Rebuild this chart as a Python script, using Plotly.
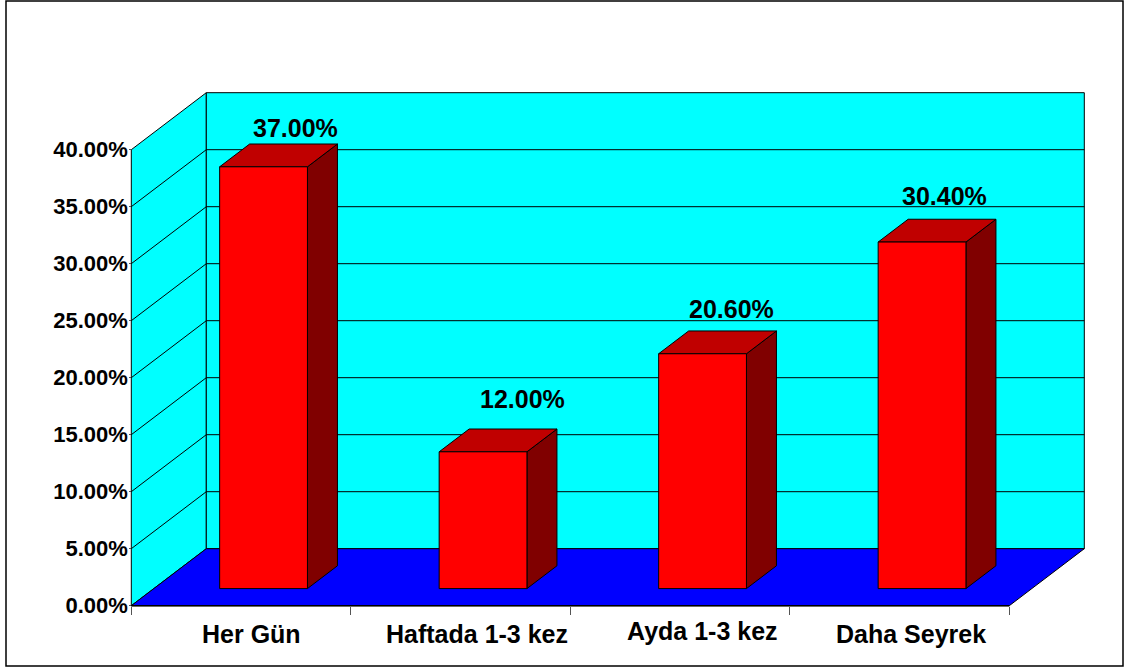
import plotly.graph_objects as go

# ---- data ----
categories = ["Her Gün", "Haftada 1-3 kez", "Ayda 1-3 kez", "Daha Seyrek"]
values = [37.0, 12.0, 20.6, 30.4]
y_ticks = [0, 5, 10, 15, 20, 25, 30, 35, 40]

# ---- geometry / style ----
W, H = 1126, 671
PX_U = 219.5          # pixels per category
PX_V = 11.4           # pixels per percent
X0, Y0 = 131.3, 605.7 # pixel position of origin
DU = 75 / PX_U        # depth offset on the category scale
DV = 57 / PX_V        # depth offset on the value scale
BAR_L, BAR_R = 0.30, 0.70   # bar extent inside a category
D0, D1 = 0.30, 0.70         # bar extent along the depth
YMAX = y_ticks[-1]
N = len(categories)

FONT = "Liberation Sans, Arial, sans-serif"
val_shift = [(32, 17), (39, 31), (29, 23), (22, 24)]
cat_shift = [(10, -28), (16, -28), (22, -25), (11, -28)]


def pt(u, d, v):
    return u + d * DU, v + d * DV


def poly(points, fill, line="black", width=1):
    xs, ys = zip(*(pt(*p) for p in points))
    return go.Scatter(x=list(xs) + [xs[0]], y=list(ys) + [ys[0]], mode="lines",
                      fill="toself", fillcolor=fill,
                      line=dict(color=line, width=width), hoverinfo="skip",
                      showlegend=False, cliponaxis=False)


def seg(points, color="black", width=1):
    xs, ys = zip(*(pt(*p) for p in points))
    return go.Scatter(x=list(xs), y=list(ys), mode="lines",
                      line=dict(color=color, width=width), hoverinfo="skip",
                      showlegend=False, cliponaxis=False)


fig = go.Figure()
# walls and floor
fig.add_trace(poly([(0, 0, 0), (0, 1, 0), (0, 1, YMAX), (0, 0, YMAX)], "#00FFFF"))
fig.add_trace(poly([(0, 1, 0), (N, 1, 0), (N, 1, YMAX), (0, 1, YMAX)], "#00FFFF"))
fig.add_trace(poly([(0, 0, 0), (N, 0, 0), (N, 1, 0), (0, 1, 0)], "#0000FF"))
# gridlines
for t in y_ticks[1:-1]:
    fig.add_trace(seg([(0, 0, t), (0, 1, t), (N, 1, t)]))
fig.add_trace(seg([(0, 0, 0), (N, 0, 0)], width=1.5))
# bars
for i, v in enumerate(values):
    l, r = i + BAR_L, i + BAR_R
    fig.add_trace(poly([(r, D0, 0), (r, D1, 0), (r, D1, v), (r, D0, v)], "#800000"))
    fig.add_trace(poly([(l, D0, v), (r, D0, v), (r, D1, v), (l, D1, v)], "#C00000"))
    fig.add_trace(poly([(l, D0, 0), (r, D0, 0), (r, D0, v), (l, D0, v)], "#FF0000"))

annotations = []
for i, (c, v) in enumerate(zip(categories, values)):
    bx, by = pt(i + 0.5, D0, v)
    annotations.append(dict(x=bx, y=by, text=f"<b>{v:.2f}%</b>", showarrow=False,
                            xshift=val_shift[i][0], yshift=val_shift[i][1] + 22,
                            font=dict(family=FONT, size=25, color="black")))
    annotations.append(dict(x=i + 0.5, y=0, text=f"<b>{c}</b>", showarrow=False,
                            xshift=cat_shift[i][0], yshift=cat_shift[i][1],
                            font=dict(family=FONT, size=25, color="black")))

fig.update_layout(
    width=W, height=H, margin=dict(l=0, r=0, t=0, b=0),
    paper_bgcolor="white", plot_bgcolor="white", showlegend=False,
    hovermode=False, annotations=annotations,
    xaxis=dict(range=[-X0 / PX_U, (W - X0) / PX_U], domain=[0, 1],
               tickvals=list(range(N + 1)), ticktext=[""] * (N + 1),
               ticks="outside", ticklen=8, tickcolor="#555555", tickwidth=1,
               showgrid=False, zeroline=False, showline=False,
               anchor="free", position=(H - Y0) / H),
    yaxis=dict(range=[-(H - Y0) / PX_V, Y0 / PX_V], domain=[0, 1],
               tickvals=y_ticks, ticktext=[f"<b>{t:.2f}%</b>" for t in y_ticks],
               ticks="outside", ticklen=2, tickcolor="#555555", tickwidth=1,
               ticklabelstandoff=-3,
               tickfont=dict(family=FONT, size=22, color="black"),
               showgrid=False, zeroline=False, showline=False,
               anchor="free", position=X0 / W),
    shapes=[dict(type="rect", xref="paper", yref="paper",
                 x0=6 / W, x1=1123 / W, y0=1 - 666 / H, y1=1 - 1 / H,
                 line=dict(color="black", width=1.5), layer="above")],
)

fig.write_html("out.html", config={"displayModeBar": False},
               post_script="document.body.style.margin='0';document.documentElement.style.overflow='hidden';")
